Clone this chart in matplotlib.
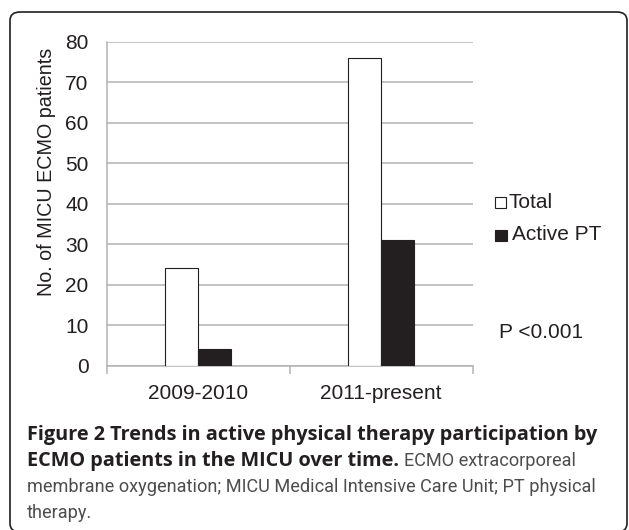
import matplotlib
matplotlib.use("Agg")
import matplotlib.pyplot as plt
from matplotlib.patches import FancyBboxPatch

categories = ["2009-2010", "2011-present"]
total = [24, 76]
active_pt = [4, 31]
series_names = ["Total", "Active PT"]
yticks = [0, 10, 20, 30, 40, 50, 60, 70, 80]

W, H = 629, 530
fig = plt.figure(figsize=(W / 100, H / 100), dpi=100)
plt.rcParams['font.family'] = ['Liberation Sans', 'DejaVu Sans']


def fx(x):
    return x / W


def fy(y):
    return 1 - y / H


# outer rounded frame
frame = FancyBboxPatch((fx(10), fy(532)), fx(617), fy(12) - fy(532),
                       boxstyle="round,pad=0,rounding_size=0.016",
                       transform=fig.transFigure, fill=False,
                       edgecolor="#231f20", linewidth=1.2)
fig.patches.append(frame)

ax = fig.add_axes([fx(106.7), fy(365.7), fx(472.7) - fx(106.7), fy(41.7) - fy(365.7)])
grid_c = "#b3b3b3"
dark = "#231f20"
w = 0.18
x = range(len(categories))
ax.bar([i - w / 2 for i in x], total, width=w, color="white", edgecolor=dark, linewidth=0.8, zorder=3)
ax.bar([i + w / 2 for i in x], active_pt, width=w, color=dark, edgecolor=dark, linewidth=0.8, zorder=3)

ax.set_xlim(-0.5, 1.5)
ax.set_ylim(0, 80)
ax.set_yticks(yticks)
ax.yaxis.grid(True, color=grid_c, linewidth=1.1)
ax.set_axisbelow(True)
for s in ["top", "right"]:
    ax.spines[s].set_visible(False)
ax.spines["left"].set_color(grid_c)
ax.spines["bottom"].set_color(grid_c)
ax.spines["left"].set_linewidth(1.1)
ax.spines["bottom"].set_linewidth(1.1)
ax.tick_params(axis="y", length=0, pad=13, labelsize=15, labelcolor=dark)
ax.set_xticks(list(x))
ax.set_xticklabels(categories)
ax.tick_params(axis="x", which="major", length=0, pad=13, labelsize=15, labelcolor=dark)
ax.set_xticks([-0.5, 0.5, 1.5], minor=True)
ax.tick_params(axis="x", which="minor", length=6, width=1.1, color=grid_c)

fig.text(fx(47), fy(172), "No. of MICU ECMO patients", rotation=90, ha="center", va="center",
         fontsize=14.2, color=dark)

# legend drawn by hand
fig.patches.append(plt.Rectangle((fx(495), fy(207.5)), fx(11), fy(197) - fy(207.5), transform=fig.transFigure,
                                 facecolor="white", edgecolor=dark, linewidth=0.8))
fig.patches.append(plt.Rectangle((fx(495), fy(241)), fx(12), fy(230) - fy(241), transform=fig.transFigure,
                                 facecolor=dark, edgecolor=dark, linewidth=0.8))
fig.text(fx(508.5), fy(202), series_names[0], ha="left", va="center", fontsize=15, color=dark)
fig.text(fx(512), fy(235), series_names[1], ha="left", va="center", fontsize=15, color=dark)
fig.text(fx(499), fy(333), "P <0.001", ha="left", va="center", fontsize=15, color=dark)

# caption
bold_font = ['Open Sans', 'DejaVu Sans']
reg_font = ['Roboto', 'DejaVu Sans']
gray = "#4d4d4f"
fig.canvas.draw()
r = fig.canvas.get_renderer()


def fit(t, target):
    # scale a text so that it spans the target width in pixels
    t.set_fontsize(t.get_fontsize() * target / t.get_window_extent(renderer=r).width)


t1 = fig.text(fx(27), fy(435), "Figure 2 Trends in active physical therapy participation by",
              ha="left", va="center", fontsize=14, fontweight="bold", family=bold_font, color=dark)
fit(t1, 573)
bsize = t1.get_fontsize()
t3 = fig.text(fx(27), fy(487), "membrane oxygenation; MICU Medical Intensive Care Unit; PT physical",
              ha="left", va="center", fontsize=14, family=reg_font, color=gray)
fit(t3, 571)
rsize = t3.get_fontsize()
t2 = fig.text(fx(27), fy(461), "ECMO patients in the MICU over time.",
              ha="left", va="center", fontsize=bsize, fontweight="bold", family=bold_font, color=dark)
bb = t2.get_window_extent(renderer=r)
fig.text(bb.x1 / W + fx(5), fy(461), "ECMO extracorporeal", ha="left", va="center",
         fontsize=rsize, family=reg_font, color=gray)
fig.text(fx(27), fy(513), "therapy.", ha="left", va="center", fontsize=rsize, family=reg_font, color=gray)

fig.savefig("out.png", dpi=100)
